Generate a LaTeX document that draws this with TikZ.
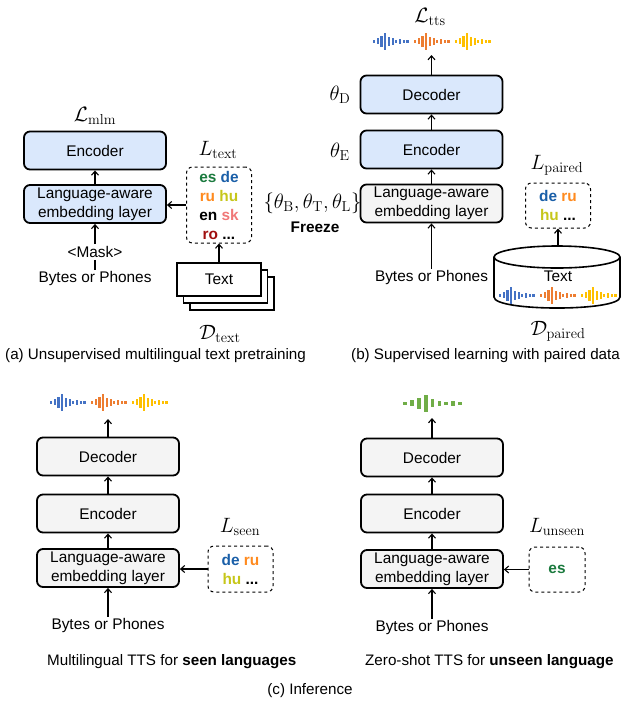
\documentclass[tikz,border=0pt]{standalone}
\usepackage[no-math]{fontspec}
\setmainfont{Liberation Sans}
\usetikzlibrary{arrows.meta}
\DeclareMathSizes{20}{20}{14.5}{11}
\definecolor{bluefill}{HTML}{DAE8FC}
\definecolor{grayfill}{HTML}{F4F4F4}
\definecolor{wblue}{HTML}{4472C4}
\definecolor{worange}{HTML}{ED7D31}
\definecolor{wyellow}{HTML}{FFC000}
\definecolor{wgreen}{HTML}{70AD47}
\definecolor{esg}{HTML}{1B7A3E}
\definecolor{deb}{HTML}{1A5FA8}
\definecolor{ruo}{HTML}{FF8A1E}
\definecolor{huy}{HTML}{C6C61A}
\definecolor{skr}{HTML}{F07878}
\definecolor{rod}{HTML}{A00F0F}
\newcommand\drawwave[3]{%
  \foreach \h [count=\i from 0] in {3,6,11,17,9,7,3,5,3,3}{%
    \fill[#3] ({#1+\i*3.7}, {#2-\h/2}) rectangle ++(2.2,\h);}}
\newcommand\drawgreenwave[2]{%
  \foreach \h [count=\i from 0] in {3,6,11,17,8,5,3,5,3}{%
    \fill[wgreen] ({#1+\i*6.9}, {#2-\h/2}) rectangle ++(3.8,\h);}}
\begin{document}
\begin{tikzpicture}[x=1pt,y=-1pt,
  font=\fontsize{15.4}{19}\selectfont,
  blk/.style={draw, line width=1.8pt, rounded corners=6pt, minimum width=142pt, minimum height=38pt, inner sep=0pt, align=center},
  bluebox/.style={blk, fill=bluefill},
  graybox/.style={blk, fill=grayfill},
  langbox/.style={draw, dashed, line width=1pt, rounded corners=6pt, inner sep=0pt, align=center, font=\fontsize{15.4}{19}\selectfont\bfseries},
  arr/.style={-{Straight Barb[length=4pt,width=7pt]}, line width=1.1pt},
  plain/.style={line width=1.1pt},
  mathlbl/.style={font=\fontsize{20}{24}\selectfont, inner sep=0pt},
  txt/.style={inner sep=2pt},
  captxt/.style={inner sep=0pt, anchor=west, font=\fontsize{15.2}{19}\selectfont},
  stackbox/.style={draw, line width=1.8pt, fill=white, minimum width=84pt, minimum height=33pt, inner sep=0pt}]
\useasboundingbox (0,0) rectangle (621,705);

% ---------------- (a) ----------------
\node[bluebox] (encA) at (95,150.5) {Encoder};
\node[bluebox] (embA) at (95,204) {Language-aware\\embedding layer};
\node[mathlbl] (lmlm) at (95,116) {$\mathcal{L}_{\mathrm{mlm}}$};
\node[txt] (mask) at (95,252) {\textless Mask\textgreater};
\node[txt] (bytesA) at (95,279) {Bytes or Phones};
\node[langbox, minimum width=65pt, minimum height=76pt] (ltA) at (219,205)
  {\color{esg}es \color{deb}de\\ \color{ruo}ru \color{huy}hu\\ \color{black}en \color{skr}sk\\ \color{rod}ro \color{black}...};
\node[mathlbl] (ltextlbl) at (218,150) {$L_{\mathrm{text}}$};
\node[stackbox] (st3) at (232,293.5) {};
\node[stackbox] (st2) at (225.5,286.5) {};
\node[stackbox] (front) at (219,279.5) {Text};
\node[mathlbl] (dtext) at (220,334) {$\mathcal{D}_{\mathrm{text}}$};
\draw[arr] (embA) -- (encA);
\draw[arr] (mask) -- (embA);
\draw[plain] (mask) -- (bytesA);
\draw[arr] (ltA.west) -- (ltA.west -| embA.east);
\draw[arr] (front) -- (ltA);
\node[captxt] (capA) at (5,356) {(a) Unsupervised multilingual text pretraining};

% ---------------- (b) ----------------
\node[bluebox] (decB) at (431.5,94.5) {Decoder};
\node[bluebox] (encB) at (431.5,149.5) {Encoder};
\node[graybox] (embB) at (431.5,203.5) {Language-aware\\embedding layer};
\node[txt] (bytesB) at (431.5,278) {Bytes or Phones};
\node[mathlbl] (ltts) at (430,17) {$\mathcal{L}_{\mathrm{tts}}$};
\drawwave{373}{41}{wblue}
\drawwave{414}{41}{worange}
\drawwave{455}{41}{wyellow}
\coordinate (wB) at (431.5,55);
\draw[arr] (decB) -- (wB);
\draw[arr] (encB) -- (decB);
\draw[arr] (embB) -- (encB);
\draw[arr] (bytesB) -- (embB);
\node[mathlbl] (thD) at (340,95) {$\theta_{\mathrm{D}}$};
\node[mathlbl] (thE) at (340,152) {$\theta_{\mathrm{E}}$};
\node[mathlbl] (frz) at (312.5,203) {$\{\theta_{\mathrm{B}},\theta_{\mathrm{T}},\theta_{\mathrm{L}}\}$};
\node[txt, font=\fontsize{15.4}{19}\selectfont\bfseries] (frzlbl) at (315,227) {Freeze};
\node[langbox, minimum width=65pt, minimum height=45pt] (pB) at (558,205.5)
  {\color{deb}de \color{ruo}ru\\ \color{huy}hu \color{black}...};
\node[mathlbl] (lpaired) at (557,165) {$L_{\mathrm{paired}}$};
% cylinder
\draw[line width=1.6pt, fill=white] (494,257) -- (494,297)
  .. controls (494,311.7) and (620,311.7) .. (620,297) -- (620,257);
\draw[line width=1.6pt, fill=white] (557,257) ellipse [x radius=63pt, y radius=11pt];
\coordinate (dbtop) at (558,246);
\node[txt] (dbtext) at (558,276) {Text};
\drawwave{499}{295}{wblue}
\drawwave{540}{295}{worange}
\drawwave{581}{295}{wyellow}
\node[mathlbl] (dpaired) at (558,331) {$\mathcal{D}_{\mathrm{paired}}$};
\draw[arr] (dbtop) -- (pB);
\node[captxt] (capB) at (351,356) {(b) Supervised learning with paired data};

% ---------------- (c) left ----------------
\node[graybox] (decC) at (108,456.5) {Decoder};
\node[graybox] (encC) at (108,513.5) {Encoder};
\node[graybox] (embC) at (108,568) {Language-aware\\embedding layer};
\node[txt] (bytesC) at (108,626) {Bytes or Phones};
\drawwave{50}{402}{wblue}
\drawwave{91}{402}{worange}
\drawwave{132}{402}{wyellow}
\coordinate (wC) at (108,419);
\draw[arr] (decC) -- (wC);
\draw[arr] (encC) -- (decC);
\draw[arr] (embC) -- (encC);
\draw[arr] (bytesC) -- (embC);
\node[mathlbl] (lseen) at (240,527) {$L_{\mathrm{seen}}$};
\node[langbox, minimum width=65pt, minimum height=46pt] (sC) at (240.5,569)
  {\color{deb}de \color{ruo}ru\\ \color{huy}hu \color{black}...};
\draw[arr] (sC.west) -- (sC.west -| embC.east);
\node[captxt] (capC1) at (47,662) {Multilingual TTS for \textbf{seen languages}};

% ---------------- (c) right ----------------
\node[graybox] (decD) at (432,457.5) {Decoder};
\node[graybox] (encD) at (432,513.5) {Encoder};
\node[graybox] (embD) at (432,569) {Language-aware\\embedding layer};
\node[txt] (bytesD) at (432,628) {Bytes or Phones};
\drawgreenwave{403}{403}
\coordinate (wD) at (432,418);
\draw[arr] (decD) -- (wD);
\draw[arr] (encD) -- (decD);
\draw[arr] (embD) -- (encD);
\draw[arr] (bytesD) -- (embD);
\node[mathlbl] (lunseen) at (557,527) {$L_{\mathrm{unseen}}$};
\node[langbox, minimum width=56pt, minimum height=45pt] (uD) at (557,569.5)
  {\color{esg}es};
\draw[arr] (uD.west) -- (uD.west -| embD.east);
\node[captxt] (capC2) at (365,662) {Zero-shot TTS for \textbf{unseen language}};

\node[txt, font=\fontsize{15.2}{19}\selectfont] (capC) at (310,691) {(c) Inference};
\end{tikzpicture}
\end{document}
